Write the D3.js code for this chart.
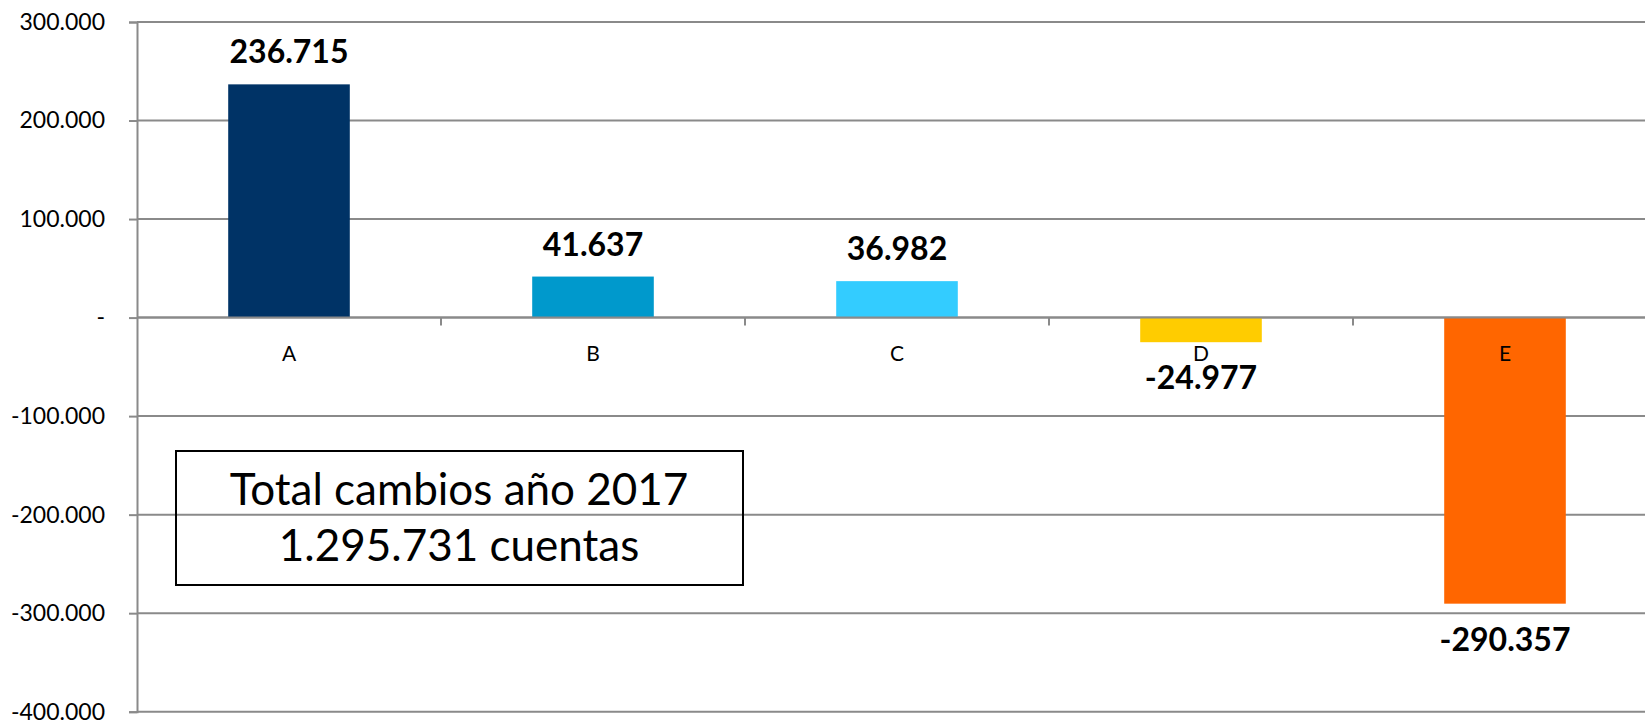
<!DOCTYPE html>
<html>
<head>
<meta charset="utf-8">
<script src="https://cdn.jsdelivr.net/npm/d3@7"></script>
<style>
  body { margin: 0; background: #fff; }
  svg { display: block; font-family: Lato, "Open Sans", sans-serif; }
</style>
</head>
<body>
<div id="chart"></div>
<script>
// Data
const categories = ["A", "B", "C", "D", "E"];
const values = [236715, 41637, 36982, -24977, -290357];
const yTicks = [300000, 200000, 100000, 0, -100000, -200000, -300000, -400000];
const boxLines = ["Total cambios año 2017", "1.295.731 cuentas"];

const barColors = ["#003366", "#0099cc", "#33ccff", "#ffcc00", "#ff6600"];

const width = 1645;
const height = 721;
const margin = { top: 22, right: -12, bottom: 9.3, left: 137 };

// Spanish style numbers, plain hyphen for negatives
const locale = d3.formatLocale({ decimal: ",", thousands: ".", grouping: [3], currency: ["", ""], minus: "-" });
const fmt = locale.format(",d");
const tickFmt = d => d === 0 ? "-" : fmt(d);

const data = categories.map((c, i) => ({ cat: c, value: values[i] }));

// Scales
const x = d3.scaleBand()
  .domain(categories)
  .range([margin.left, width - margin.right])
  .paddingInner(0.6)
  .paddingOuter(0.3);

const xBand = d3.scaleBand()
  .domain(categories)
  .range([margin.left, width - margin.right])
  .padding(0);

const y = d3.scaleLinear()
  .domain([-400000, 300000])
  .range([height - margin.bottom, margin.top]);

const color = d3.scaleOrdinal(categories, barColors);

const svg = d3.select("#chart")
  .append("svg")
  .attr("width", width)
  .attr("height", height);

// Gridlines
svg.append("g")
  .selectAll("line")
  .data(yTicks)
  .join("line")
  .attr("x1", margin.left)
  .attr("x2", width)
  .attr("y1", d => y(d))
  .attr("y2", d => y(d))
  .attr("stroke", "#8a8a8a")
  .attr("stroke-width", 2);

// Y axis
const yAxis = svg.append("g")
  .attr("transform", `translate(${margin.left},0)`)
  .call(d3.axisLeft(y).tickValues(yTicks).tickFormat(tickFmt).tickSize(8).tickPadding(24));
yAxis.select(".domain").attr("stroke", "#8a8a8a").attr("stroke-width", 2);
yAxis.selectAll(".tick line").attr("stroke", "#8a8a8a").attr("stroke-width", 2);
yAxis.selectAll(".tick text")
  .attr("font-family", "Lato, sans-serif")
  .attr("font-size", 23)
  .attr("fill", "#000");

// Bars
svg.append("g")
  .selectAll("rect")
  .data(data)
  .join("rect")
  .attr("x", d => x(d.cat))
  .attr("width", x.bandwidth())
  .attr("y", d => y(Math.max(0, d.value)))
  .attr("height", d => Math.abs(y(d.value) - y(0)))
  .attr("fill", d => color(d.cat));

// Zero line (category axis) with ticks between categories
svg.append("line")
  .attr("x1", margin.left)
  .attr("x2", width)
  .attr("y1", y(0))
  .attr("y2", y(0))
  .attr("stroke", "#8a8a8a")
  .attr("stroke-width", 2);

svg.append("g")
  .selectAll("line")
  .data(categories.slice(1))
  .join("line")
  .attr("x1", d => xBand(d))
  .attr("x2", d => xBand(d))
  .attr("y1", y(0))
  .attr("y2", y(0) + 8)
  .attr("stroke", "#8a8a8a")
  .attr("stroke-width", 2);

// Category labels
svg.append("g")
  .selectAll("text")
  .data(data)
  .join("text")
  .attr("x", d => x(d.cat) + x.bandwidth() / 2)
  .attr("y", y(0) + 43)
  .attr("text-anchor", "middle")
  .attr("font-size", 21)
  .attr("fill", "#000")
  .text(d => d.cat);

// Value labels
svg.append("g")
  .selectAll("text")
  .data(data)
  .join("text")
  .attr("x", d => x(d.cat) + x.bandwidth() / 2)
  .attr("y", d => d.value >= 0 ? y(d.value) - 21 : y(d.value) + 47)
  .attr("text-anchor", "middle")
  .attr("font-size", 32)
  .attr("font-weight", "bold")
  .attr("fill", "#000")
  .text(d => fmt(d.value));

// Summary box
svg.append("rect")
  .attr("x", 176)
  .attr("y", 451)
  .attr("width", 567)
  .attr("height", 134)
  .attr("fill", "none")
  .attr("stroke", "#000")
  .attr("stroke-width", 2);

svg.append("g")
  .selectAll("text")
  .data(boxLines)
  .join("text")
  .attr("x", 459)
  .attr("y", (d, i) => 505 + i * 56)
  .attr("text-anchor", "middle")
  .attr("font-size", 44)
  .attr("fill", "#000")
  .text(d => d);
</script>
</body>
</html>
